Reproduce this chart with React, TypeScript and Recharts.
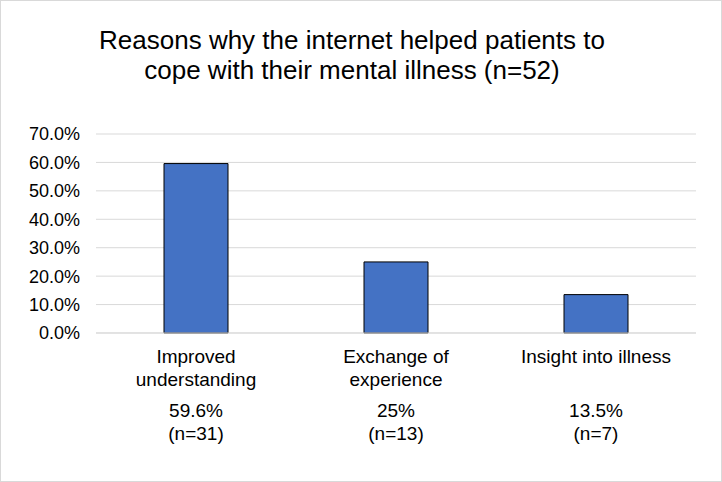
import React from "react";
import { BarChart, Bar, XAxis, YAxis, CartesianGrid } from "recharts";

const titleLines = [
  "Reasons why the internet helped patients to",
  "cope with their mental illness (n=52)",
];
const categories = ["Improved understanding", "Exchange of experience", "Insight into illness"];
const categoryLines = [
  ["Improved", "understanding"],
  ["Exchange of", "experience"],
  ["Insight into illness", ""],
];
const shares = [59.6, 25, 13.5];
const shareLabels = ["59.6%", "25%", "13.5%"];
const counts = [31, 13, 7];
const yTicks = [0, 10, 20, 30, 40, 50, 60, 70];

const data = categories.map((c, i) => ({ name: c, value: shares[i] }));

const FONT = "'Liberation Sans', Arial, sans-serif";

const CategoryTick = (props: any) => {
  const { x, y, payload } = props;
  const i = categories.indexOf(payload.value);
  const lines = categoryLines[i] || [payload.value];
  return (
    <g>
      <text x={x} y={y + 22} textAnchor="middle" fontSize={19} fontFamily={FONT} fill="#000">
        {lines[0]}
      </text>
      <text x={x} y={y + 45} textAnchor="middle" fontSize={19} fontFamily={FONT} fill="#000">
        {lines[1]}
      </text>
      <text x={x} y={y + 76} textAnchor="middle" fontSize={19} fontFamily={FONT} fill="#000">
        {shareLabels[i]}
      </text>
      <text x={x} y={y + 99} textAnchor="middle" fontSize={19} fontFamily={FONT} fill="#000">
        {`(n=${counts[i]})`}
      </text>
    </g>
  );
};

export default function App() {
  return (
    <div style={{ position: "absolute", left: 0, top: 0, width: 722, height: 482, background: "#fff" }}>
      <BarChart
        width={722}
        height={482}
        data={data}
        margin={{ top: 134, right: 26, left: 0, bottom: 0 }}
      >
        <CartesianGrid vertical={false} stroke="#d9d9d9" strokeWidth={1} />
        <YAxis
          width={96}
          domain={[0, 70]}
          ticks={yTicks}
          interval={0}
          axisLine={false}
          tickLine={false}
          tickMargin={10}
          tickFormatter={(v: number) => `${v.toFixed(1)}%`}
          tick={{ fontSize: 18, fill: "#000", fontFamily: FONT }}
        />
        <XAxis
          dataKey="name"
          height={149}
          axisLine={{ stroke: "#d9d9d9" }}
          tickLine={false}
          interval={0}
          tick={<CategoryTick />}
        />
        <Bar dataKey="value" fill="#4472C4" stroke="#000" strokeWidth={1} barSize={64} isAnimationActive={false} />
      </BarChart>
      <div
        style={{
          position: "absolute",
          left: 0,
          top: 25,
          width: 704,
          textAlign: "center",
          fontFamily: FONT,
          fontSize: 26,
          lineHeight: "30px",
          color: "#000",
        }}
      >
        {titleLines.map((t, i) => (
          <div key={i}>{t}</div>
        ))}
      </div>
      <div
        style={{
          position: "absolute",
          left: 0,
          top: 0,
          width: 722,
          height: 482,
          boxSizing: "border-box",
          border: "1px solid #d9d9d9",
          pointerEvents: "none",
        }}
      />
    </div>
  );
}
